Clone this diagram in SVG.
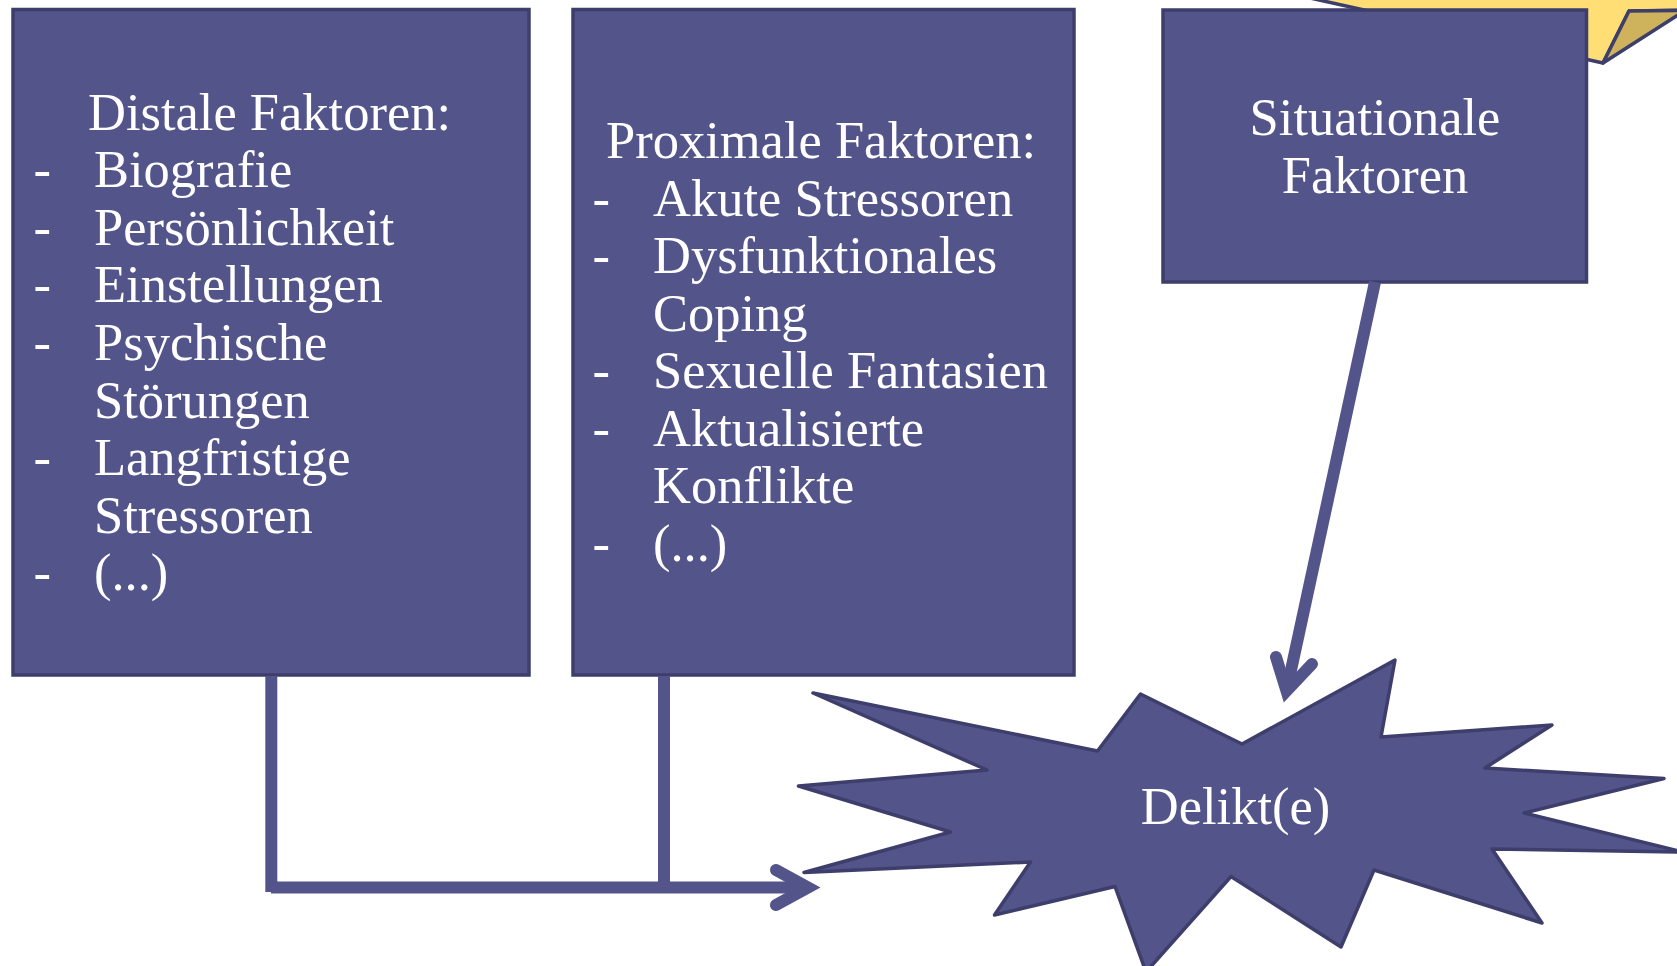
<svg xmlns="http://www.w3.org/2000/svg" width="1677" height="966" viewBox="0 0 1677 966">
<style>
.box{fill:#53548A;stroke:#3E3E6C;stroke-width:3.5}
.t{fill:#FFFFFF;font-family:"Liberation Serif","Times New Roman",serif;font-size:52.5px}
.c{text-anchor:middle}
.con{fill:none;stroke:#53548A;stroke-width:12}
.head{fill:none;stroke:#53548A;stroke-width:12;stroke-linecap:round;stroke-linejoin:miter}
</style>
<rect width="1677" height="966" fill="#FFFFFF"/>
<g id="note">
<polygon points="1265,-12 1603,63 1629,11 1690,10 1690,-12" fill="#FFDE75" stroke="#3E3E6C" stroke-width="3.5" stroke-linejoin="round"/>
<polygon points="1603,63 1629,11 1685,10.5" fill="#CFB35C" stroke="#3E3E6C" stroke-width="3.5" stroke-linejoin="round"/>
</g>
<g id="distal">
<rect class="box" x="13" y="9.5" width="516" height="665.5"/>
<text class="t" x="88" y="129.5">Distale Faktoren:</text>
<text class="t" x="33.5" y="187.3">-</text><text class="t" x="94" y="187.3">Biografie</text>
<text class="t" x="33.5" y="245">-</text><text class="t" x="94" y="245">Persönlichkeit</text>
<text class="t" x="33.5" y="302.3">-</text><text class="t" x="94" y="302.3">Einstellungen</text>
<text class="t" x="33.5" y="360">-</text><text class="t" x="94" y="360">Psychische</text>
<text class="t" x="94" y="417.6">Störungen</text>
<text class="t" x="33.5" y="474.8">-</text><text class="t" x="94" y="474.8">Langfristige</text>
<text class="t" x="94" y="532.5">Stressoren</text>
<text class="t" x="33.5" y="589.8">-</text><text class="t" x="94" y="589.8">(...)</text>
</g>
<g id="proximal">
<rect class="box" x="573" y="9.5" width="501" height="665.5"/>
<text class="t" x="606" y="158.3">Proximale Faktoren:</text>
<text class="t" x="592.4" y="215.8">-</text><text class="t" x="653" y="215.8">Akute Stressoren</text>
<text class="t" x="592.4" y="273.3">-</text><text class="t" x="653" y="273.3">Dysfunktionales</text>
<text class="t" x="653" y="330.8">Coping</text>
<text class="t" x="592.4" y="388.3">-</text><text class="t" x="653" y="388.3">Sexuelle Fantasien</text>
<text class="t" x="592.4" y="445.8">-</text><text class="t" x="653" y="445.8">Aktualisierte</text>
<text class="t" x="653" y="503.3">Konflikte</text>
<text class="t" x="592.4" y="560.8">-</text><text class="t" x="653" y="560.8">(...)</text>
</g>
<g id="situational">
<rect class="box" x="1163" y="10" width="423.5" height="272"/>
<text class="t c" x="1375" y="135">Situationale</text>
<text class="t c" x="1375" y="192.7">Faktoren</text>
</g>
<g id="delikt">
<polygon class="box" points="813,693 1097.5,751 1140.5,694 1242,744 1395,660 1381,737 1552,725 1485,768 1664,778.5 1524,813 1683,852 1492,849 1542,923 1374,870 1341,947 1231,876.5 1146,972 1115,886.5 994.5,915 1030.5,862 804,872.5 950.5,832 798.5,786 987,770" stroke-linejoin="round"/>
<text class="t c" x="1235.5" y="824">Delikt(e)</text>
</g>
<g id="connectors">
<path class="con" d="M271.3,676 V892"/>
<path class="con" d="M271,887.5 H808"/>
<path class="con" d="M664,676 V887.5"/>
<path class="head" d="M776,870 L808,887.5 L776,905"/>
<path class="con" d="M1375,282 L1286.5,691"/>
<path class="head" d="M1276,657 L1286.5,691 L1312,664"/>
</g>
</svg>
